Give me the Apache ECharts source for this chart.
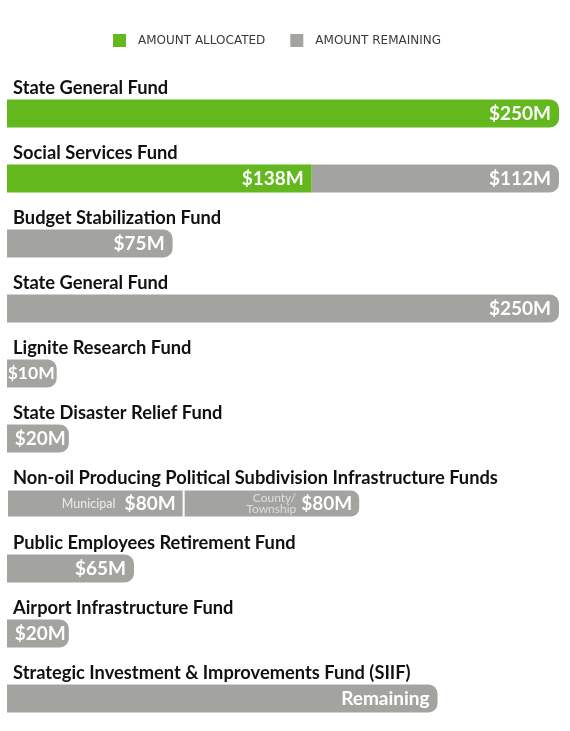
<!DOCTYPE html>
<html>
<head>
<meta charset="utf-8">
<script src="https://cdn.jsdelivr.net/npm/echarts@6/dist/echarts.min.js"></script>
<style>
    html, body { margin: 0; padding: 0; background: #fff; }
    #chart { width: 570px; height: 731px; }
</style>
</head>
<body>
<div id="chart"></div>
<script>
// 基金名称（自上而下）
const funds = [
    'State General Fund',
    'Social Services Fund',
    'Budget Stabilization Fund',
    'State General Fund',
    'Lignite Research Fund',
    'State Disaster Relief Fund',
    'Non-oil Producing Political Subdivision Infrastructure Funds',
    'Public Employees Retirement Fund',
    'Airport Infrastructure Fund',
    'Strategic Investment & Improvements Fund (SIIF)'
];

// 条形长度（$M，按图中长度读取；小额条形在原图中被加宽以容纳标签）
const allocated = [250, 138, null, null, null, null, null, null, null, null];
const remaining = [null, 112, 75, 250, 22.5, 28, 80, 57.5, 28, 195];
const countyTownship = [null, null, null, null, null, null, 80, null, null, null];

// 条形内标签
const allocatedText = ['$250M', '$138M', '', '', '', '', '', '', '', ''];
const remainingText = ['', '$112M', '$75M', '$250M', '$10M', '$20M', '$80M', '$65M', '$20M', 'Remaining'];
const countyText = ['', '', '', '', '', '', '$80M', '', '', ''];

// 颜色配置
const colors = {
    allocated: '#62b81d',
    remaining: '#a3a39f',
    title: '#111111',
    legend: '#3a3a3a',
    note: '#ececea'
};

const chart = echarts.init(document.getElementById('chart'));

const labelFont = {
    fontFamily: 'Lato',
    fontWeight: 'bold',
    fontSize: 19,
    color: '#ffffff'
};

function lastIndex(i) {
    // 每行最右端的分段才有圆角
    if (countyTownship[i] != null) return 'county';
    if (remaining[i] != null) return 'remaining';
    return 'allocated';
}

function buildData(values, texts, key) {
    return values.map((v, i) => {
        if (v == null) return '-';
        const rounded = lastIndex(i) === key;
        const small = v < 30;
        const item = {
            value: v,
            itemStyle: { borderRadius: rounded ? [0, 9, 9, 0] : 0 },
            label: {
                show: texts[i] !== '',
                formatter: texts[i],
                distance: small ? 3 : 8
            }
        };
        if (v < 25) {
            item.label.fontSize = 17.5;
            item.label.distance = 2;
        }
        if (i === 6) {
            item.itemStyle.borderColor = '#ffffff';
            item.itemStyle.borderWidth = 1;
            if (key === 'remaining') {
                item.label.formatter = '{s|Municipal}  ' + texts[i];
                item.label.rich = {
                    s: { fontFamily: 'Lato', fontSize: 12.5, fontWeight: 'normal', color: colors.note }
                };
            }
        }
        return item;
    });
}

const option = {
    animation: false,
    legend: {
        top: 29,
        left: 108,
        itemWidth: 13,
        itemHeight: 13,
        itemGap: 25,
        icon: 'rect',
        data: ['Amount Allocated', 'Amount Remaining'],
        formatter: name => name.toUpperCase(),
        textStyle: {
            fontFamily: 'DejaVu Sans',
            fontSize: 12,
            color: colors.legend,
            padding: [0, 0, 0, 7]
        }
    },
    grid: {
        left: 7,
        top: 81,
        width: 552,
        height: 653
    },
    xAxis: {
        type: 'value',
        min: 0,
        max: 250,
        show: false
    },
    yAxis: {
        type: 'category',
        inverse: true,
        data: funds,
        axisLine: { show: false },
        axisTick: { show: false },
        splitLine: { show: false },
        axisLabel: {
            inside: true,
            margin: 6,
            align: 'left',
            verticalAlign: 'bottom',
            padding: [0, 0, 16, 0],
            fontFamily: 'Lato',
            fontWeight: 'bold',
            fontSize: 18.3,
            color: colors.title
        }
    },
    series: [
        {
            name: 'Amount Allocated',
            type: 'bar',
            stack: 'fund',
            barWidth: 28,
            itemStyle: { color: colors.allocated },
            label: Object.assign({ position: 'insideRight' }, labelFont),
            data: buildData(allocated, allocatedText, 'allocated')
        },
        {
            name: 'Amount Remaining',
            type: 'bar',
            stack: 'fund',
            barWidth: 28,
            itemStyle: { color: colors.remaining },
            label: Object.assign({ position: 'insideRight' }, labelFont),
            data: buildData(remaining, remainingText, 'remaining')
        },
        {
            name: 'County/Township',
            type: 'bar',
            stack: 'fund',
            barWidth: 28,
            itemStyle: { color: colors.remaining },
            label: Object.assign({ position: 'insideRight' }, labelFont),
            data: buildData(countyTownship, countyText, 'county')
        },
        {
            // County/Township 小字注释
            name: 'County note',
            type: 'scatter',
            symbolSize: 0,
            silent: true,
            data: [[131, 6]],
            label: {
                show: true,
                position: 'left',
                distance: 0,
                formatter: 'County/\nTownship',
                fontFamily: 'Lato',
                fontSize: 12,
                lineHeight: 11,
                color: colors.note
            }
        }
    ]
};

chart.setOption(option);

window.addEventListener('resize', function() {
    chart.resize();
});
</script>
</body>
</html>
